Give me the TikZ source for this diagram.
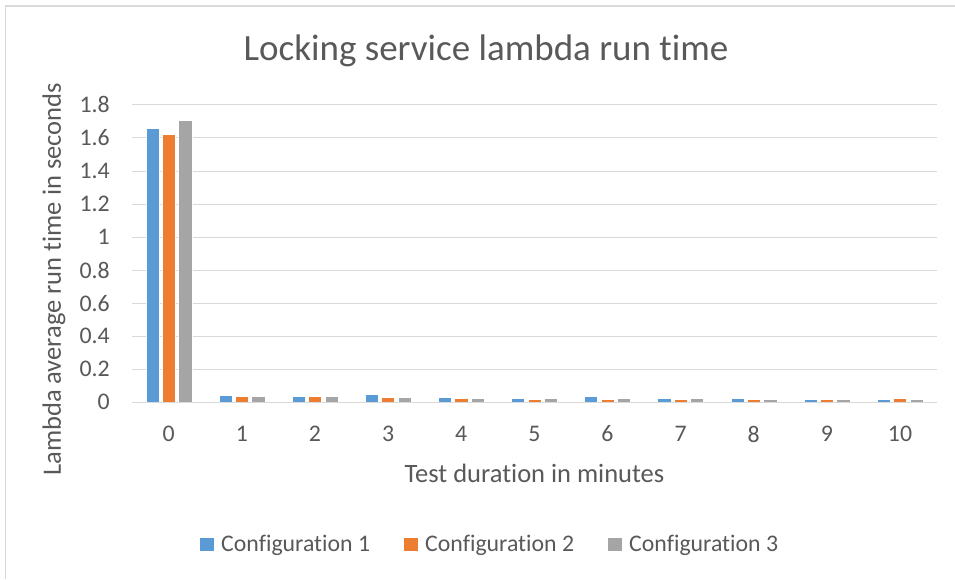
\documentclass[tikz,border=0pt]{standalone}
\usepackage{fontspec}
\setmainfont{Carlito}[Ligatures={NoCommon}]
\definecolor{cblue}{HTML}{5B9BD5}
\definecolor{corange}{HTML}{ED7D31}
\definecolor{cgray}{HTML}{A5A5A5}
\definecolor{txt}{HTML}{595959}
\definecolor{grid}{HTML}{D9D9D9}
\begin{document}
\begin{tikzpicture}[x=1pt,y=-1pt,
  lbl/.style={text=txt,inner sep=0pt,font=\fontsize{23.8}{26}\selectfont},
  ttl/.style={text=txt,inner sep=0pt,font=\fontsize{26.5}{30}\selectfont},
  bar/.style={draw=white,line width=0.4pt},
  gridline/.style={draw=grid,line width=1pt}]
\useasboundingbox (0,0) rectangle (955,579);
\fill[white] (0,0) rectangle (955,579);
\draw[grid,line width=1.2pt] (5.5,579) -- (5.5,6) -- (955,6);
% title
\node[text=txt,inner sep=0pt,font=\fontsize{37}{40}\selectfont] (title) at (486,51) {Locking service lambda run time};
% gridlines and y ticks
\foreach \k/\t in {0/0,1/0.2,2/0.4,3/0.6,4/0.8,5/1,6/1.2,7/1.4,8/1.6,9/1.8}{
  \draw[gridline] (132.1,{402.3-33.04*\k}) -- (936.5,{402.3-33.04*\k});
  \node[lbl,anchor=east] (yt\k) at (110,{402.3-33.04*\k}) {\t};
}
% bars
\foreach \i/\a/\b/\c in {0/1.66/1.62/1.71,1/0.042/0.036/0.040,2/0.034/0.034/0.034,3/0.048/0.030/0.032,4/0.028/0.022/0.026,5/0.026/0.020/0.022,6/0.034/0.020/0.022,7/0.022/0.018/0.024,8/0.022/0.018/0.020,9/0.020/0.018/0.020,10/0.020/0.022/0.016}{
  \pgfmathsetmacro\cx{168.7+73.13*\i}
  \fill[cblue,bar] ({\cx-16.4-6.6},402.3) rectangle ({\cx-16.4+6.6},{402.3-165.2*\a});
  \fill[corange,bar] ({\cx-6.6},402.3) rectangle ({\cx+6.6},{402.3-165.2*\b});
  \fill[cgray,bar] ({\cx+16.4-6.6},402.3) rectangle ({\cx+16.4+6.6},{402.3-165.2*\c});
  \node[lbl] (xt\i) at (\cx,434) {\i};
}
\draw[gridline] (132.1,402.3) -- (936.5,402.3);
% axis titles
\node[ttl] (xtitle) at (534.5,473) {Test duration in minutes};
\node[ttl,rotate=90] (ytitle) at (54,279.5) {Lambda average run time in seconds};
% legend
\fill[cblue] (200,538) rectangle (214,551);
\node[lbl,anchor=west] (l1) at (221,545) {Configuration 1};
\fill[corange] (404,538) rectangle (418,551);
\node[lbl,anchor=west] (l2) at (425,545) {Configuration 2};
\fill[cgray] (608,538) rectangle (622,551);
\node[lbl,anchor=west] (l3) at (629,545) {Configuration 3};
\end{tikzpicture}
\end{document}
